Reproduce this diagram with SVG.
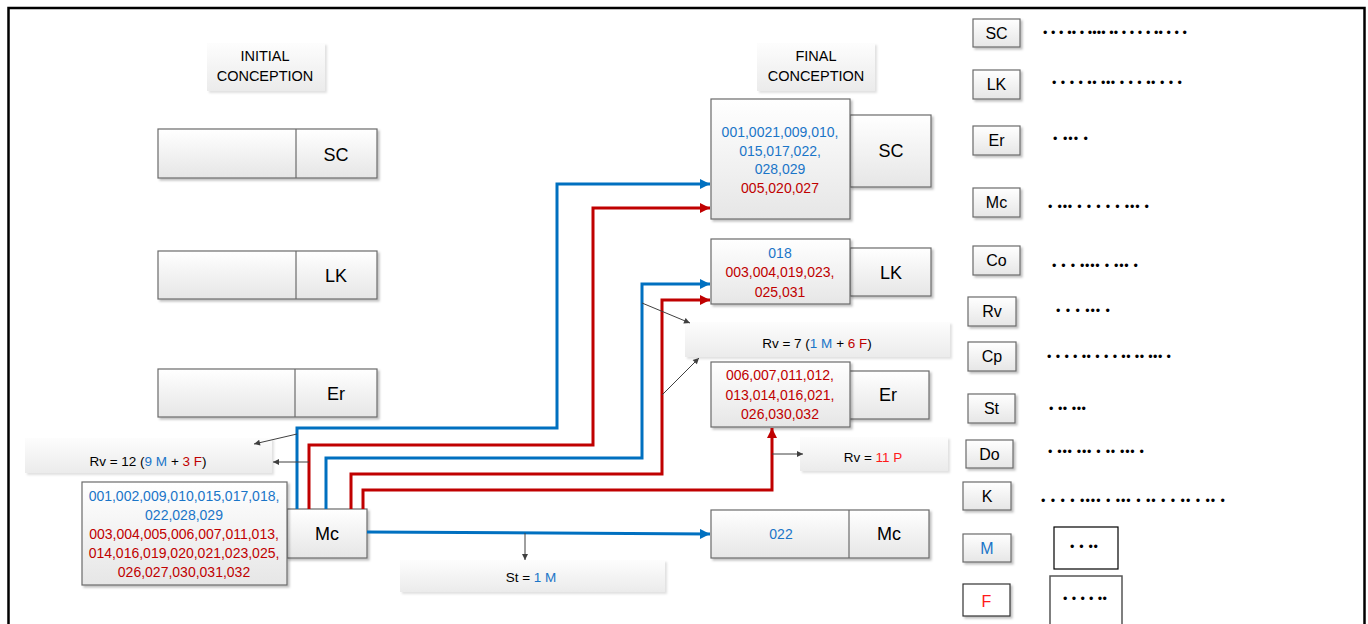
<svg xmlns="http://www.w3.org/2000/svg" width="1368" height="624" viewBox="0 0 1368 624">
<style>
text{font-family:"Liberation Sans",Arial,sans-serif;fill:#000}
.box{fill:url(#g);stroke:#6b6b6b;stroke-width:1.2;filter:url(#sh)}
.lbl{fill:url(#gl);filter:url(#sh2)}
.big{font-size:18px;text-anchor:middle}
.num{font-size:14px;text-anchor:middle}
.hd{font-size:14.5px;text-anchor:middle}
.rv{font-size:13.5px;text-anchor:middle}
.lg{font-size:16px;text-anchor:middle}
.dots{font-size:12.5px}
.b{fill:#1a75c8}
.r{fill:#c00000}
.rr{fill:#ff1a1a}
.cb{fill:none;stroke:#0070c0;stroke-width:3}
.cr{fill:none;stroke:#c00000;stroke-width:3}
.th{fill:none;stroke:#404040;stroke-width:1}
</style>
<defs>
<linearGradient id="g" x1="0" y1="0" x2="0" y2="1"><stop offset="0" stop-color="#ffffff"/><stop offset="1" stop-color="#e6e6e6"/></linearGradient>
<linearGradient id="gl" x1="0" y1="0" x2="0" y2="1"><stop offset="0" stop-color="#fdfdfd"/><stop offset="1" stop-color="#ebebeb"/></linearGradient>
<filter id="sh" x="-10%" y="-10%" width="130%" height="140%"><feDropShadow dx="2" dy="2" stdDeviation="1" flood-color="#000" flood-opacity="0.25"/></filter>
<filter id="sh2" x="-10%" y="-10%" width="130%" height="140%"><feDropShadow dx="2" dy="2" stdDeviation="1" flood-color="#000" flood-opacity="0.12"/></filter>
<marker id="ab" viewBox="0 0 10 10" refX="10" refY="5" markerWidth="11" markerHeight="10" markerUnits="userSpaceOnUse" orient="auto"><path d="M0,0 L10,5 L0,10 Z" fill="#0070c0"/></marker>
<marker id="ar" viewBox="0 0 10 10" refX="10" refY="5" markerWidth="11" markerHeight="10" markerUnits="userSpaceOnUse" orient="auto"><path d="M0,0 L10,5 L0,10 Z" fill="#c00000"/></marker>
<marker id="at" viewBox="0 0 10 10" refX="10" refY="5" markerWidth="7" markerHeight="6" markerUnits="userSpaceOnUse" orient="auto"><path d="M0,0 L10,5 L0,10 Z" fill="#404040"/></marker>
</defs>
<rect x="0" y="0" width="1368" height="624" fill="#fff"/>
<rect x="8.5" y="8" width="1356" height="640" fill="none" stroke="#000" stroke-width="2.5"/>

<g id="initial-label"><rect class="lbl" x="207" y="43" width="118" height="48"/><text class="hd" x="265" y="61">INITIAL</text><text class="hd" x="265" y="81">CONCEPTION</text></g>
<g id="final-label"><rect class="lbl" x="757" y="43" width="118" height="48"/><text class="hd" x="816" y="61">FINAL</text><text class="hd" x="816" y="81">CONCEPTION</text></g>

<g id="init-sc"><rect class="box" x="158" y="129" width="219" height="49"/><line x1="296" y1="129" x2="296" y2="178" stroke="#6b6b6b" stroke-width="1.2"/><text class="big" x="336" y="161">SC</text></g>
<g id="init-lk"><rect class="box" x="158" y="251" width="219" height="48"/><line x1="296" y1="251" x2="296" y2="299" stroke="#6b6b6b" stroke-width="1.2"/><text class="big" x="336" y="282">LK</text></g>
<g id="init-er"><rect class="box" x="158" y="369" width="219" height="48"/><line x1="295" y1="369" x2="295" y2="417" stroke="#6b6b6b" stroke-width="1.2"/><text class="big" x="336" y="400">Er</text></g>

<g id="rv12"><rect class="lbl" x="25" y="438" width="247" height="35"/><text class="rv" x="148" y="466">Rv = 12 (<tspan class="b">9 M</tspan> + <tspan class="r">3 F</tspan>)</text></g>

<g id="init-mc"><rect class="box" x="287" y="509" width="80" height="49"/><text class="big" x="327" y="540">Mc</text>
<rect class="box" x="82" y="482" width="205" height="103"/>
<text class="num" x="184" y="501"><tspan class="b">001,002,009,010,015,017,018,</tspan></text>
<text class="num" x="184" y="520"><tspan class="b">022,028,029</tspan></text>
<text class="num" x="184" y="539"><tspan class="r">003,004,005,006,007,011,013,</tspan></text>
<text class="num" x="184" y="558"><tspan class="r">014,016,019,020,021,023,025,</tspan></text>
<text class="num" x="184" y="577"><tspan class="r">026,027,030,031,032</tspan></text></g>

<g id="final-sc"><rect class="box" x="850" y="115" width="81" height="72"/><text class="big" x="891" y="157">SC</text>
<rect class="box" x="711" y="99" width="139" height="120"/>
<text class="num b" x="780" y="137">001,0021,009,010,</text>
<text class="num b" x="780" y="155.5">015,017,022,</text>
<text class="num b" x="780" y="174">028,029</text>
<text class="num r" x="780" y="193">005,020,027</text></g>

<g id="final-lk"><rect class="box" x="850" y="248" width="81" height="48"/><text class="big" x="891" y="279">LK</text>
<rect class="box" x="711" y="239" width="139" height="65"/>
<text class="num b" x="780" y="258">018</text>
<text class="num r" x="780" y="277">003,004,019,023,</text>
<text class="num r" x="780" y="297">025,031</text></g>

<g id="rv7"><rect class="lbl" x="685" y="322" width="265" height="35"/><text class="rv" x="817" y="348">Rv = 7 (<tspan class="b">1 M</tspan> + <tspan class="r">6 F</tspan>)</text></g>

<g id="final-er"><rect class="box" x="848" y="371" width="81" height="48"/><text class="big" x="888" y="401">Er</text>
<rect class="box" x="711" y="362" width="139" height="65"/>
<text class="num r" x="780" y="380">006,007,011,012,</text>
<text class="num r" x="780" y="400">013,014,016,021,</text>
<text class="num r" x="780" y="419">026,030,032</text></g>

<g id="rv11"><rect class="lbl" x="800" y="437" width="148" height="34"/><text class="rv" x="873" y="462">Rv = <tspan class="rr">11 P</tspan></text></g>

<g id="final-mc"><rect class="box" x="711" y="510" width="218" height="48"/><line x1="849" y1="510" x2="849" y2="558" stroke="#6b6b6b" stroke-width="1.2"/><text class="num b" x="781" y="539">022</text><text class="big" x="889" y="540">Mc</text></g>

<g id="st"><rect class="lbl" x="400" y="560" width="265" height="32"/><text class="rv" x="531" y="582">St = <tspan class="b">1 M</tspan></text></g>

<g id="connectors">
<path class="cb" d="M297,509 V428 H557 V184 H710" marker-end="url(#ab)"/>
<path class="cr" d="M309,509 V445 H593 V208 H710" marker-end="url(#ar)"/>
<path class="cb" d="M326,509 V458 H642 V284 H710" marker-end="url(#ab)"/>
<path class="cr" d="M351,509 V474 H662 V300 H710" marker-end="url(#ar)"/>
<path class="cr" d="M363,509 V490 H772 V428" marker-end="url(#ar)"/>
<path class="cb" d="M367,532 L710,534" marker-end="url(#ab)"/>
<path class="th" d="M297,434 L254,444" marker-end="url(#at)"/>
<path class="th" d="M309,462 L273,462" marker-end="url(#at)"/>
<path class="th" d="M642,303 L690,323" marker-end="url(#at)"/>
<path class="th" d="M662,395 L699,358" marker-end="url(#at)"/>
<path class="th" d="M772,454 L803,454" marker-end="url(#at)"/>
<path class="th" d="M525,533 L525,560" marker-end="url(#at)"/>
</g>

<g id="legend">
<g id="lg-sc"><rect class="box" x="973" y="19" width="47" height="28"/><text class="lg" x="996.5" y="39">SC</text><text class="dots" x="1043" y="37" textLength="144" lengthAdjust="spacing">• • • •• • •••• •• • • • •  •• • • •</text></g>
<g id="lg-lk"><rect class="box" x="973" y="70" width="47" height="29"/><text class="lg" x="996.5" y="90">LK</text><text class="dots" x="1052" y="87" textLength="130" lengthAdjust="spacing">• • • • •• ••• • • •  •• • • •</text></g>
<g id="lg-er"><rect class="box" x="973" y="126" width="47" height="29"/><text class="lg" x="996.5" y="146">Er</text><text class="dots" x="1053" y="143" textLength="35" lengthAdjust="spacing">• ••• •</text></g>
<g id="lg-mc"><rect class="box" x="973" y="188" width="47" height="29"/><text class="lg" x="996.5" y="208">Mc</text><text class="dots" x="1048" y="211" textLength="101" lengthAdjust="spacing">•  ••• • • • • • ••• •</text></g>
<g id="lg-co"><rect class="box" x="973" y="246" width="47" height="29"/><text class="lg" x="996.5" y="266">Co</text><text class="dots" x="1052" y="270" textLength="86" lengthAdjust="spacing">• • • •••• • ••• •</text></g>
<g id="lg-rv"><rect class="box" x="968" y="297" width="48" height="29"/><text class="lg" x="992" y="317">Rv</text><text class="dots" x="1056" y="315" textLength="54" lengthAdjust="spacing">• • • ••• •</text></g>
<g id="lg-cp"><rect class="box" x="968" y="342" width="48" height="29"/><text class="lg" x="992" y="362">Cp</text><text class="dots" x="1047" y="361" textLength="124" lengthAdjust="spacing">• • •  • •• •  • • •• •• ••• •</text></g>
<g id="lg-st"><rect class="box" x="968" y="394" width="47" height="29"/><text class="lg" x="991.5" y="414">St</text><text class="dots" x="1049" y="413" textLength="37" lengthAdjust="spacing">• •• •••</text></g>
<g id="lg-do"><rect class="box" x="966" y="440" width="47" height="28"/><text class="lg" x="989.5" y="460">Do</text><text class="dots" x="1048" y="456" textLength="96" lengthAdjust="spacing">•  ••• ••• • •• ••• •</text></g>
<g id="lg-k"><rect class="box" x="963" y="482" width="48" height="28"/><text class="lg" x="987" y="502">K</text><text class="dots" x="1041" y="505" textLength="184" lengthAdjust="spacing">• • • •  •••• •  ••• • •• • • •• • •• •</text></g>
<g id="lg-m"><rect class="box" x="963" y="534" width="48" height="28"/><text class="lg" x="987" y="554" style="fill:#1a75c8">M</text><rect x="1054" y="527" width="64" height="42" fill="#fff" stroke="#000" stroke-width="1.2"/><text class="dots" x="1070" y="551" textLength="28" lengthAdjust="spacing">•  • ••</text></g>
<g id="lg-f"><rect x="963" y="584" width="47" height="32" fill="#fff" stroke="#333" stroke-width="1.2" filter="url(#sh)"/><text class="lg" x="986.5" y="607" style="fill:#ff1a1a">F</text><rect x="1050" y="576" width="72" height="60" fill="#fff" stroke="#555" stroke-width="1.5"/><text class="dots" x="1063" y="603" textLength="44" lengthAdjust="spacing">• • •  • ••</text></g>
</g>
</svg>
